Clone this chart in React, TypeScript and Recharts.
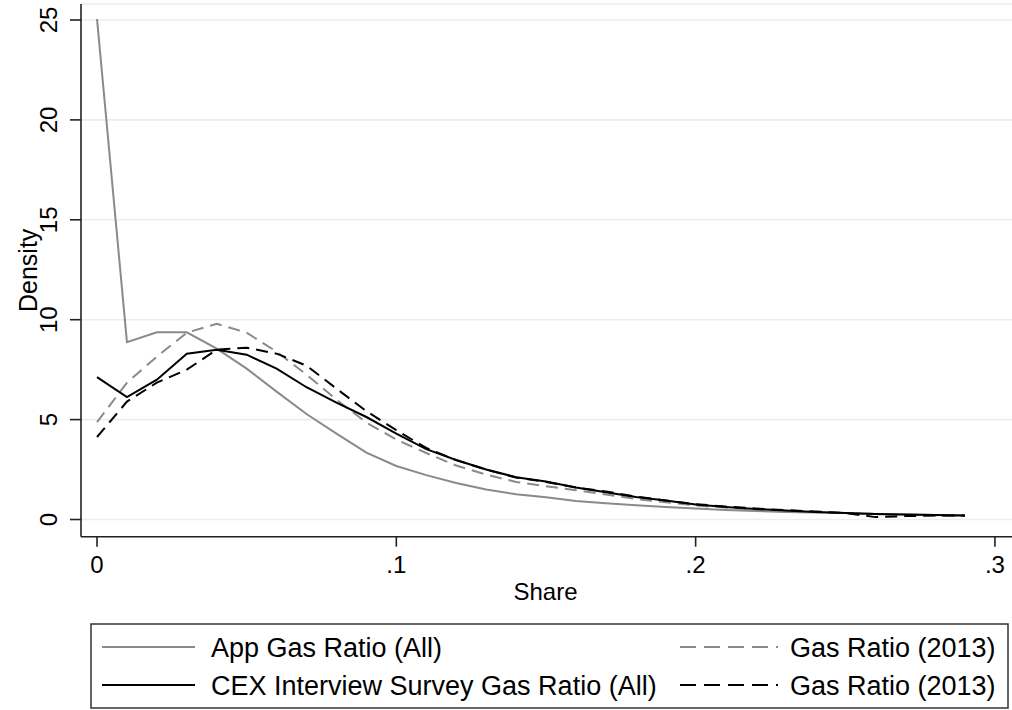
import { LineChart, Line, XAxis, YAxis, CartesianGrid } from 'recharts';

const shares = [
  0, 0.01, 0.02, 0.03, 0.04, 0.05, 0.06, 0.07, 0.08, 0.09,
  0.1, 0.11, 0.12, 0.13, 0.14, 0.15, 0.16, 0.17, 0.18, 0.19,
  0.2, 0.21, 0.22, 0.23, 0.24, 0.25, 0.26, 0.27, 0.28, 0.29,
];

// App Gas Ratio (All) - grey solid
const appAll = [
  25.05, 8.88, 9.37, 9.37, 8.55, 7.55, 6.4, 5.28, 4.3, 3.35,
  2.68, 2.22, 1.83, 1.5, 1.27, 1.12, 0.93, 0.82, 0.72, 0.63,
  0.55, 0.48, 0.43, 0.38, 0.35, 0.32, 0.28, 0.25, 0.22, 0.2,
];

// CEX Interview Survey Gas Ratio (All) - black solid
const cexAll = [
  7.13, 6.13, 7.0, 8.3, 8.5, 8.25, 7.55, 6.62, 5.85, 5.13,
  4.3, 3.52, 2.98, 2.5, 2.12, 1.9, 1.6, 1.37, 1.13, 0.95,
  0.75, 0.63, 0.53, 0.45, 0.38, 0.33, 0.28, 0.25, 0.22, 0.2,
];

// Gas Ratio (2013) - grey dashed
const app2013 = [
  4.87, 6.85, 8.15, 9.35, 9.8, 9.35, 8.4, 7.25, 6.0, 4.85,
  4.0, 3.33, 2.7, 2.25, 1.88, 1.67, 1.47, 1.25, 1.03, 0.87,
  0.7, 0.6, 0.5, 0.43, 0.37, 0.32, 0.27, 0.23, 0.2, 0.18,
];

// Gas Ratio (2013) - black dashed
const cex2013 = [
  4.13, 5.9, 6.85, 7.5, 8.5, 8.6, 8.3, 7.7, 6.55, 5.42,
  4.47, 3.58, 2.97, 2.5, 2.1, 1.88, 1.6, 1.4, 1.15, 0.95,
  0.77, 0.65, 0.55, 0.47, 0.4, 0.33, 0.12, 0.17, 0.2, 0.2,
];

const xTicks = [0, 0.1, 0.2, 0.3];
const yTicks = [0, 5, 10, 15, 20, 25];

const legendItems = [
  { label: 'App Gas Ratio (All)', color: '#8a8a8a', dash: undefined },
  { label: 'Gas Ratio (2013)', color: '#8a8a8a', dash: '16 8' },
  { label: 'CEX Interview Survey Gas Ratio (All)', color: '#000', dash: undefined },
  { label: 'Gas Ratio (2013)', color: '#000', dash: '16 8' },
];

const data = shares.map((s, i) => ({
  share: s,
  appAll: appAll[i],
  cexAll: cexAll[i],
  app2013: app2013[i],
  cex2013: cex2013[i],
}));

const FONT = '"Liberation Sans", Arial, Helvetica, sans-serif';

const fmtShare = (v: number) => (v === 0 ? '0' : String(v).replace(/^0/, ''));

function XTick(props: any) {
  const { x, y, payload } = props;
  return (
    <text x={x} y={y + 24} textAnchor="middle" fontSize={24} fontFamily={FONT} fill="#000">
      {fmtShare(payload.value)}
    </text>
  );
}

function YTick(props: any) {
  const { x, y, payload } = props;
  const bx = x - 11;
  return (
    <text
      x={bx}
      y={y}
      transform={`rotate(-90 ${bx} ${y})`}
      textAnchor="middle"
      fontSize={24}
      fontFamily={FONT}
      fill="#000"
    >
      {payload.value}
    </text>
  );
}

function Legend() {
  const rows = [647, 685];
  const cols = [
    { x1: 102, x2: 195, tx: 211 },
    { x1: 680, x2: 778, tx: 790 },
  ];
  return (
    <svg width={1012} height={710} style={{ position: 'absolute', left: 0, top: 0, pointerEvents: 'none' }}>
      <rect x={91} y={624} width={917} height={84} fill="none" stroke="#333" strokeWidth={1.5} />
      {legendItems.map((it, i) => {
        const r = rows[Math.floor(i / 2)];
        const c = cols[i % 2];
        return (
          <g key={i}>
            <line x1={c.x1} x2={c.x2} y1={r} y2={r} stroke={it.color} strokeWidth={2.2} strokeDasharray={it.dash} />
            <text x={c.tx} y={r + 10} fontSize={27} fontFamily={FONT} fill="#000">
              {it.label}
            </text>
          </g>
        );
      })}
    </svg>
  );
}

export default function App() {
  return (
    <div style={{ position: 'absolute', left: 0, top: 0, width: 1012, height: 710, background: '#fff' }}>
      <LineChart width={1012} height={620} data={data} margin={{ top: 4, right: 0, left: 0, bottom: 13.3 }}>
        <CartesianGrid horizontal vertical={false} stroke="#e6eff1" strokeWidth={1.6} />
        <XAxis
          dataKey="share"
          type="number"
          domain={[-0.00535, 0.3057]}
          ticks={xTicks}
          height={70}
          tickSize={10}
          tick={<XTick />}
          stroke="#222"
          strokeWidth={1.6}
          label={(p: any) => (
            <text
              x={p.viewBox.x + p.viewBox.width / 2 - 1}
              y={p.viewBox.y + 63}
              textAnchor="middle"
              fontSize={24}
              fontFamily={FONT}
              fill="#000"
            >
              Share
            </text>
          )}
        />
        <YAxis
          type="number"
          domain={[-0.86, 25.8]}
          ticks={yTicks}
          width={81}
          tickSize={11}
          tick={<YTick />}
          stroke="#222"
          strokeWidth={1.6}
          label={(p: any) => {
            const cy = p.viewBox.y + p.viewBox.height / 2;
            return (
              <text
                x={37}
                y={cy}
                transform={`rotate(-90 37 ${cy})`}
                textAnchor="middle"
                fontSize={25}
                fontFamily={FONT}
                fill="#000"
              >
                Density
              </text>
            );
          }}
        />
        <Line dataKey="appAll" type="linear" stroke="#8a8a8a" strokeWidth={2} dot={false} isAnimationActive={false} />
        <Line dataKey="app2013" type="linear" stroke="#8a8a8a" strokeWidth={2} strokeDasharray="12 7" dot={false} isAnimationActive={false} />
        <Line dataKey="cexAll" type="linear" stroke="#000" strokeWidth={2} dot={false} isAnimationActive={false} />
        <Line dataKey="cex2013" type="linear" stroke="#000" strokeWidth={2} strokeDasharray="12 7" dot={false} isAnimationActive={false} />
      </LineChart>
      <Legend />
    </div>
  );
}
